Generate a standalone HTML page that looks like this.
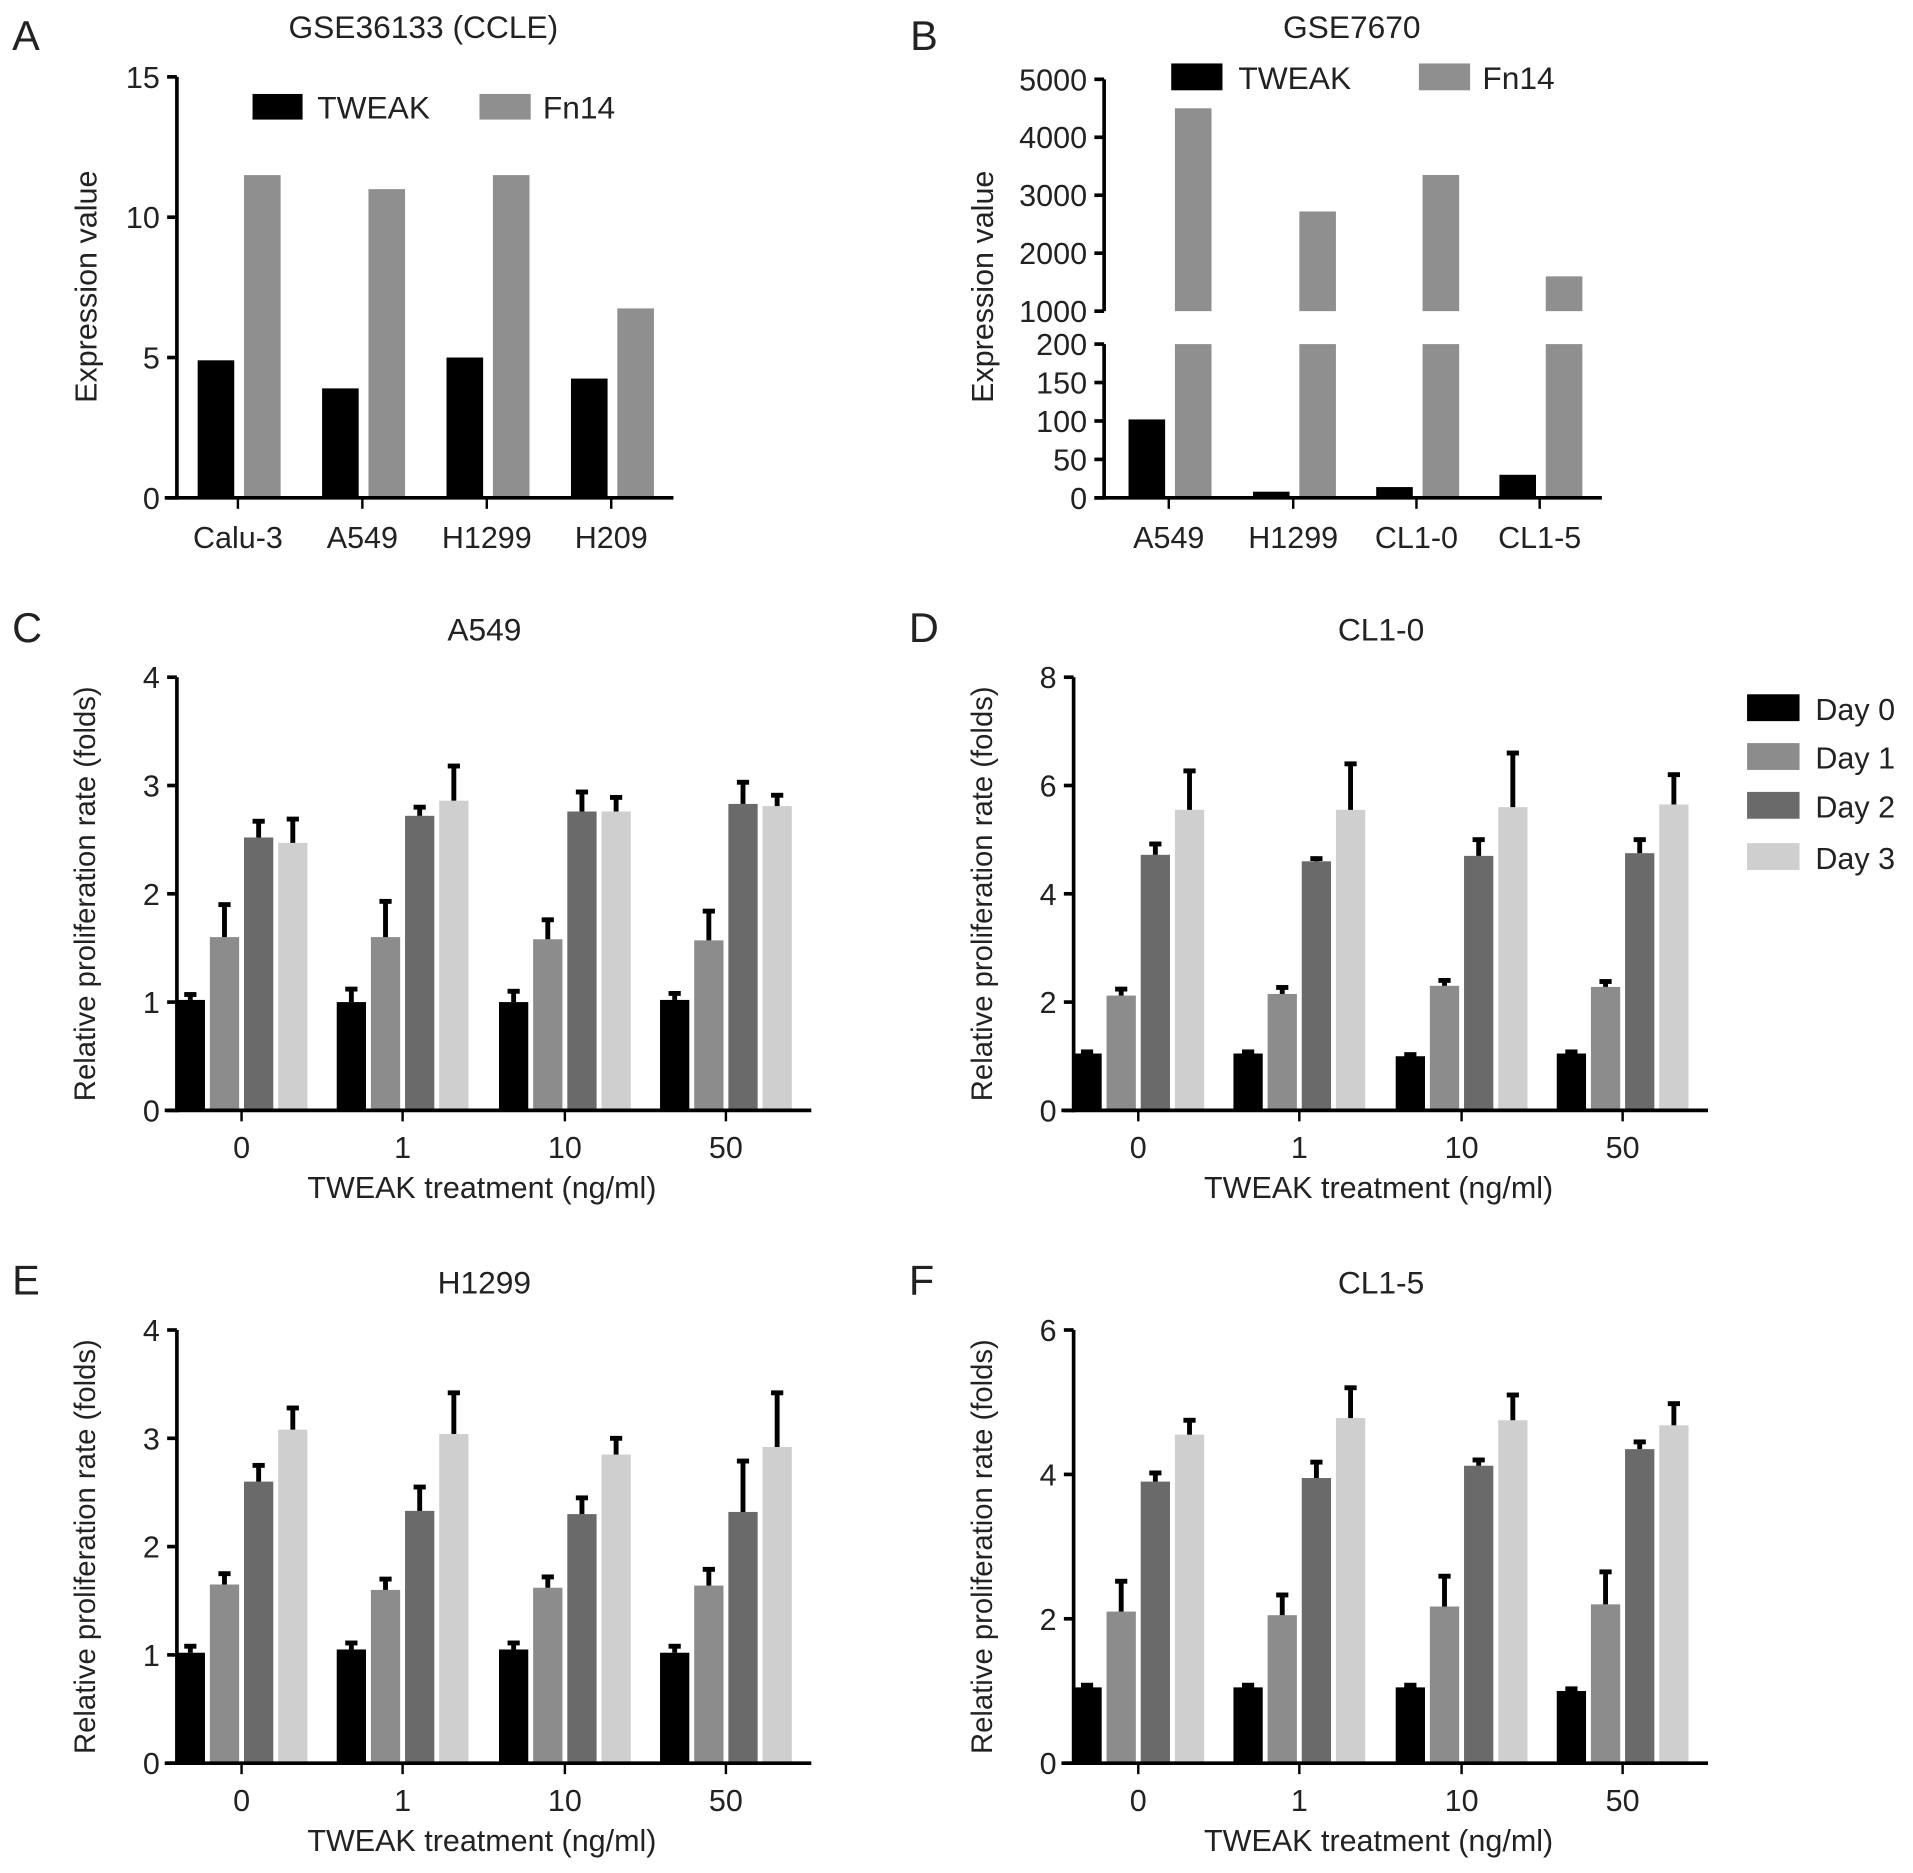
<!DOCTYPE html>
<html><head><meta charset="utf-8"><style>
html,body{margin:0;padding:0;background:#fff}
svg{display:block}
text{font-family:"Liberation Sans",Arial,sans-serif;fill:#222}
</style></head><body>
<svg id="fig" width="1913" height="1873" viewBox="0 0 1568 1535" preserveAspectRatio="none" xmlns="http://www.w3.org/2000/svg"></svg>
<script>
// Panel A data
const aCats = ["Calu-3","A549","H1299","H209"];
const aTweak = [4.9,3.9,5.0,4.25];
const aFn14 = [11.5,11.0,11.5,6.75];
const aTicks = [0,5,10,15];
// Panel B data
const bCats = ["A549","H1299","CL1-0","CL1-5"];
const bTweak = [102,8,14,30];
const bFn14 = [4500,2720,3350,1600];
const bTicksLow = [0,50,100,150,200];
const bTicksHigh = [1000,2000,3000,4000,5000];
// Proliferation panels
const doseCats = ["0","1","10","50"];
const days = ["Day 0","Day 1","Day 2","Day 3"];
const cVals = [[1.02,1.0,1.0,1.02],[1.6,1.6,1.58,1.57],[2.52,2.72,2.76,2.83],[2.47,2.86,2.76,2.81]];
const cErr = [[0.05,0.12,0.1,0.06],[0.3,0.33,0.18,0.27],[0.15,0.08,0.18,0.2],[0.22,0.32,0.13,0.1]];
const dVals = [[1.05,1.05,1.0,1.05],[2.12,2.15,2.3,2.28],[4.72,4.6,4.7,4.75],[5.55,5.55,5.6,5.65]];
const dErr = [[0.03,0.03,0.03,0.03],[0.12,0.12,0.1,0.1],[0.2,0.05,0.3,0.25],[0.72,0.85,1.0,0.55]];
const eVals = [[1.02,1.05,1.05,1.02],[1.65,1.6,1.62,1.64],[2.6,2.33,2.3,2.32],[3.08,3.04,2.85,2.92]];
const eErr = [[0.06,0.06,0.06,0.06],[0.1,0.1,0.1,0.15],[0.15,0.22,0.15,0.47],[0.2,0.38,0.15,0.5]];
const fVals = [[1.05,1.05,1.05,1.0],[2.1,2.05,2.17,2.2],[3.9,3.95,4.12,4.35],[4.55,4.78,4.75,4.68]];
const fErr = [[0.03,0.03,0.03,0.03],[0.42,0.28,0.42,0.45],[0.12,0.22,0.08,0.1],[0.2,0.42,0.35,0.3]];
const cTicks=[0,1,2,3,4], dTicks=[0,2,4,6,8], eTicks=[0,1,2,3,4], fTicks=[0,2,4,6];

const NS="http://www.w3.org/2000/svg";
const svg=document.getElementById('fig');
function mk(tag,attrs,parent){const e=document.createElementNS(NS,tag);for(const k in attrs)e.setAttribute(k,attrs[k]);(parent||svg).appendChild(e);return e;}
function txt(s,x,y,size,anchor,parent,extra){const t=mk('text',Object.assign({x:x,y:y,'font-size':size,'text-anchor':anchor||'middle'},extra||{}),parent);t.textContent=s;return t;}
function line(x1,y1,x2,y2,w,parent){return mk('line',{x1,y1,x2,y2,stroke:'#000','stroke-width':w||3},parent);}

const dayColors=['#000','#8c8c8c','#6a6a6a','#cfcfcf'];

// ---- Panel A ----
(function(){
  const g=mk('g',{});
  
  
  const x0=145,y0=408,yTop=63,max=15;
  const y=v=>y0-(v/max)*(y0-yTop);
  const cx=[195,297,399,501];
  txt('A',10,41,34,'start',g);
  txt('GSE36133 (CCLE)',347,31,26,'middle',g);
  aCats.forEach((c,i)=>{
    const b1=mk('rect',{x:cx[i]-33,y:y(aTweak[i]),width:30,height:y0-y(aTweak[i]),fill:'#000'},g);
    
    
    const b2=mk('rect',{x:cx[i]+5,y:y(aFn14[i]),width:30,height:y0-y(aFn14[i]),fill:'#8f8f8f'},g);
    
    
    line(cx[i],y0,cx[i],y0+9,2,g);
    txt(c,cx[i],449,25,'middle',g);
  });
  line(x0,yTop,x0,y0+1.5,3,g);
  line(135,y0,552,y0,3,g);
  aTicks.forEach(v=>{line(x0-8,y(v),x0,y(v),3,g);txt(String(v),x0-14,y(v)+9,25,'end',g);});
  const yl=txt('Expression value',79,235,25,'middle',g,{transform:'rotate(-90 79 235)'});
  
  mk('rect',{x:207,y:77,width:41,height:21,fill:'#000'},g);
  txt('TWEAK',260,97,26,'start',g);
  mk('rect',{x:393,y:77,width:42,height:21,fill:'#8f8f8f'},g);
  txt('Fn14',445,97,26,'start',g);
})();

// ---- Panel B ----
(function(){
  const g=mk('g',{});
  
  
  const x0=905,y0=408,yLowTop=282,yHi0=255,yHiTop=65;
  const yL=v=>y0-(v/200)*(y0-yLowTop);
  const yH=v=>yHi0-((v-1000)/4000)*(yHi0-yHiTop);
  const cx=[958,1060,1161,1262];
  txt('B',746,41,34,'start',g);
  txt('GSE7670',1108,31,26,'middle',g);
  bCats.forEach((c,i)=>{
    const t=Math.min(bTweak[i],200);
    const b1=mk('rect',{x:cx[i]-33,y:yL(t),width:30,height:y0-yL(t),fill:'#000'},g);
    
    
    const b2=mk('rect',{x:cx[i]+5,y:yLowTop,width:30,height:y0-yLowTop,fill:'#8f8f8f'},g);
    
    
    const b3=mk('rect',{x:cx[i]+5,y:yH(bFn14[i]),width:30,height:yHi0-yH(bFn14[i]),fill:'#8f8f8f'},g);
    
    
    line(cx[i],y0,cx[i],y0+9,2,g);
    txt(c,cx[i],449,25,'middle',g);
  });
  line(x0,yHiTop,x0,yHi0,3,g);
  line(x0,yLowTop,x0,y0+1.5,3,g);
  line(897,y0,1313,y0,3,g);
  bTicksLow.forEach(v=>{line(x0-8,yL(v),x0,yL(v),3,g);txt(String(v),x0-14,yL(v)+9,25,'end',g);});
  bTicksHigh.forEach(v=>{line(x0-8,yH(v),x0,yH(v),3,g);txt(String(v),x0-14,yH(v)+9,25,'end',g);});
  const yl=txt('Expression value',814,235,25,'middle',g,{transform:'rotate(-90 814 235)'});
  
  mk('rect',{x:960,y:52,width:42,height:22,fill:'#000'},g);
  txt('TWEAK',1015,73,26,'start',g);
  mk('rect',{x:1163,y:52,width:42,height:22,fill:'#8f8f8f'},g);
  txt('Fn14',1215,73,26,'start',g);
})();

// ---- Proliferation panels ----
function prolif(name,letter,title,x0,y0,yTop,ticks,vals,errs){
  const g=mk('g',{});
  
  
  const max=ticks[ticks.length-1];
  const y=v=>y0-(v/max)*(y0-yTop);
  const cx=[x0+53,x0+185,x0+318,x0+450];
  txt(letter,x0-135,yTop-29,34,'start',g);
  txt(title,x0+252,yTop-30,26,'middle',g);
  doseCats.forEach((c,i)=>{
    for(let d=0;d<4;d++){
      const v=vals[d][i],e=errs[d][i];
      const bx=cx[i]-54+d*28;
      const r=mk('rect',{x:bx,y:y(v),width:24,height:y0-y(v),fill:dayColors[d]},g);
      
      
      const mx=bx+12;
      line(mx,y(v),mx,y(v+e),4,g);
      line(mx-5,y(v+e),mx+5,y(v+e),4,g);
    }
    line(cx[i],y0,cx[i],y0+9,2,g);
    txt(c,cx[i],y0+39,25,'middle',g);
  });
  line(x0,yTop,x0,y0+1.5,3,g);
  line(x0-10,y0,x0+520,y0,3,g);
  ticks.forEach(v=>{line(x0-8,y(v),x0,y(v),3,g);txt(String(v),x0-14,y(v)+9,25,'end',g);});
  const xt=txt('TWEAK treatment (ng/ml)',x0+250,y0+72,25,'middle',g);
  
  const yx=x0-67,yy=(y0+yTop)/2;
  const yl=txt('Relative proliferation rate (folds)',yx,yy,24,'middle',g,{transform:'rotate(-90 '+yx+' '+yy+')'});
  
}
prolif('panel-c','C','A549',145,910,555,cTicks,cVals,cErr);
prolif('panel-d','D','CL1-0',880,910,555,dTicks,dVals,dErr);
prolif('panel-e','E','H1299',145,1445,1090,eTicks,eVals,eErr);
prolif('panel-f','F','CL1-5',880,1445,1090,fTicks,fVals,fErr);

// legend
(function(){
  const g=mk('g',{});
  
  
  const ys=[581,621,661,703];
  days.forEach((d,i)=>{
    const r=mk('rect',{x:1432,y:ys[i]-12,width:43,height:22,fill:dayColors[i]},g);
    
    
    txt(d,1488,ys[i]+9,25,'start',g);
  });
})();
</script>
</body></html>
